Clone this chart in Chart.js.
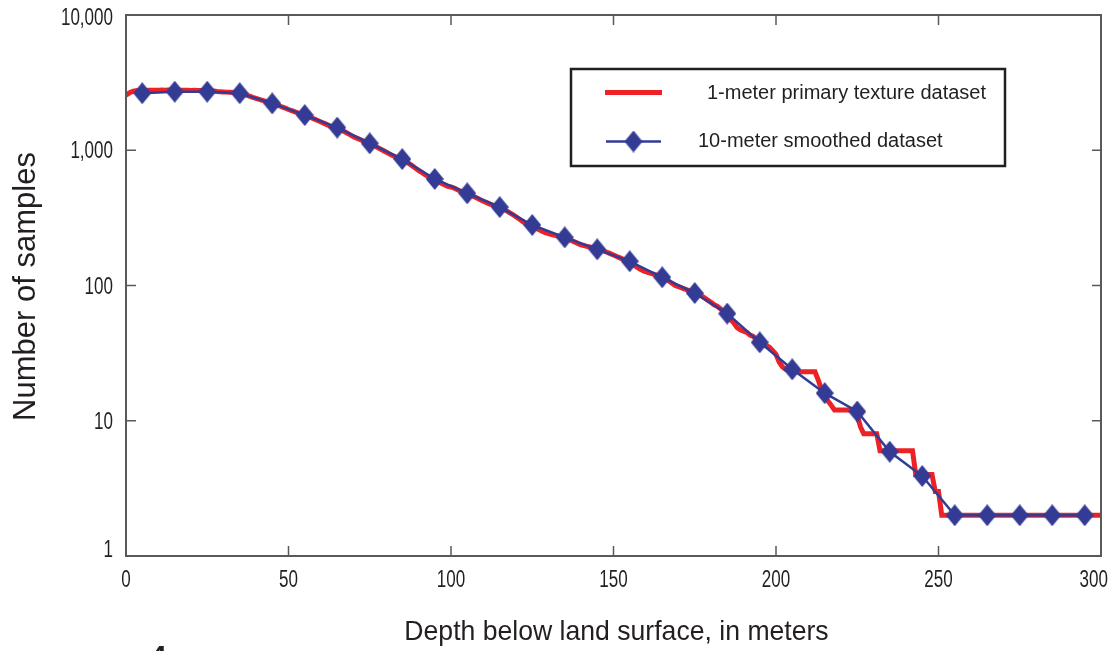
<!DOCTYPE html>
<html>
<head>
<meta charset="utf-8">
<script src="https://cdn.jsdelivr.net/npm/chart.js@4.4.0/dist/chart.umd.min.js"></script>
<style>
html,body{margin:0;padding:0;background:#ffffff;overflow:hidden}
#wrap{width:1115px;height:651px;position:relative}
</style>
</head>
<body>
<div id="wrap"><canvas id="c" width="1115" height="651"></canvas></div>
<script>
// ---------- data ----------
const seriesNames = ['1-meter primary texture dataset', '10-meter smoothed dataset'];
const xTitle = 'Depth below land surface, in meters';
const yTitle = 'Number of samples';
const xTickValues = [0, 50, 100, 150, 200, 250, 300];
const xTickLabels = ['0', '50', '100', '150', '200', '250', '300'];
const yTickValues = [1, 10, 100, 1000, 10000];
const yTickLabels = ['1', '10', '100', '1,000', '10,000'];

// 1-meter dataset: depth 0..300 m, one value per meter
const oneMeterDepths = Array.from({length: 301}, (_, i) => i);
const oneMeterCounts = [
  2560, 2650, 2720, 2750, 2760, 2770, 2770, 2775, 2780, 2780,
  2780, 2785, 2780, 2790, 2785, 2780, 2790, 2780, 2775, 2780,
  2770, 2775, 2770, 2760, 2765, 2750, 2745, 2740, 2720, 2710,
  2700, 2690, 2680, 2670, 2655, 2640, 2610, 2560, 2510, 2460,
  2420, 2380, 2340, 2300, 2260, 2220, 2180, 2140, 2090, 2050,
  2000, 1960, 1920, 1880, 1850, 1820, 1780, 1740, 1700, 1660,
  1620, 1580, 1540, 1500, 1480, 1460, 1420, 1380, 1340, 1300,
  1260, 1230, 1200, 1170, 1140, 1120, 1090, 1060, 1030, 1000,
  970, 940, 915, 890, 870, 855, 830, 800, 770, 740,
  710, 685, 660, 640, 625, 610, 590, 570, 555, 540,
  535, 525, 510, 498, 488, 478, 468, 455, 443, 430,
  420, 410, 400, 392, 385, 378, 368, 358, 346, 335,
  322, 310, 298, 288, 280, 272, 266, 259, 252, 246,
  242, 238, 235, 232, 229, 226, 221, 215, 210, 205,
  200, 197, 194, 192, 189, 186, 183, 180, 176, 172,
  168, 164, 160, 156, 152, 148, 143, 138, 133, 129,
  126, 124, 122, 120, 118, 115, 112, 108, 104, 100,
  98, 96, 94, 92, 90, 88, 86, 84, 81, 78,
  75, 72, 70, 67, 64, 60, 56, 53, 49, 47,
  46, 45, 43, 42, 40, 39, 37, 36, 35, 33,
  31, 27, 25, 24, 24, 23, 23, 23, 23, 23,
  23, 23, 23, 20, 17, 15, 14, 13, 12, 12,
  12, 12, 12, 12, 12, 11, 9, 8, 8, 8,
  8, 8, 6, 6, 6, 6, 6, 6, 6, 6,
  6, 6, 6, 4, 4, 4, 4, 4, 4, 3,
  3, 2, 2, 2, 2, 2, 2, 2, 2, 2,
  2, 2, 2, 2, 2, 2, 2, 2, 2, 2,
  2, 2, 2, 2, 2, 2, 2, 2, 2, 2,
  2, 2, 2, 2, 2, 2, 2, 2, 2, 2,
  2, 2, 2, 2, 2, 2, 2, 2, 2, 2,
  2
];

// 10-meter smoothed dataset
const tenMeterDepths = [5, 15, 25, 35, 45, 55, 65, 75, 85, 95, 105, 115, 125, 135, 145,
  155, 165, 175, 185, 195, 205, 215, 225, 235, 245, 255, 265, 275, 285, 295];
const tenMeterCounts = [2640, 2710, 2710, 2640, 2220, 1820, 1470, 1125, 860, 613, 480, 380, 280, 227, 185,
  151, 115, 88, 62, 38, 24, 16, 11.7, 5.9, 3.9, 2, 2, 2, 2, 2];

// ---------- styles ----------
const RED = '#ec2227';
const BLUE = '#333b94';
const AXIS = '#595959';
const TEXT = '#231f20';
const SANS = '"Liberation Sans", Arial, sans-serif';

function makeDiamond(w, h, color) {
  const c = document.createElement('canvas');
  c.width = w; c.height = h;
  const g = c.getContext('2d');
  g.fillStyle = color;
  g.beginPath();
  g.moveTo(w / 2, 0); g.lineTo(w, h / 2); g.lineTo(w / 2, h); g.lineTo(0, h / 2);
  g.closePath(); g.fill();
  return c;
}
const diamond = makeDiamond(18, 22, BLUE);

function condensedText(ctx, text, x, y, align, sx) {
  ctx.save();
  ctx.translate(x, y);
  ctx.scale(sx, 1);
  ctx.textAlign = align;
  ctx.fillText(text, 0, 0);
  ctx.restore();
}

const decorPlugin = {
  id: 'decor',
  afterDraw(chart) {
    const {ctx, chartArea: a, scales: {x, y}} = chart;
    const W = chart.width;
    ctx.save();
    // frame
    ctx.strokeStyle = AXIS;
    ctx.lineWidth = 2;
    ctx.strokeRect(a.left, a.top, a.right - a.left, a.bottom - a.top);
    // inward ticks
    ctx.beginPath();
    x.ticks.forEach(t => {
      const px = x.getPixelForValue(t.value);
      if (px <= a.left + 1 || px >= a.right - 1) return;
      ctx.moveTo(px, a.bottom); ctx.lineTo(px, a.bottom - 10);
      ctx.moveTo(px, a.top); ctx.lineTo(px, a.top + 10);
    });
    y.ticks.forEach(t => {
      const py = y.getPixelForValue(t.value);
      if (py <= a.top + 1 || py >= a.bottom - 1) return;
      ctx.moveTo(a.left, py); ctx.lineTo(a.left + 10, py);
      ctx.moveTo(a.right, py); ctx.lineTo(a.right - 9, py);
    });
    ctx.lineWidth = 1.5;
    ctx.stroke();

    // tick labels (condensed face)
    const SX = 0.74;
    ctx.fillStyle = TEXT;
    ctx.font = '23px ' + SANS;
    ctx.textBaseline = 'alphabetic';
    y.ticks.forEach((t, i) => {
      const py = y.getPixelForValue(t.value);
      const base = Math.min(Math.max(py + 8, a.top + 10), a.bottom + 1);
      condensedText(ctx, yTickLabels[i], a.left - 13, base, 'right', SX);
    });
    x.ticks.forEach((t, i) => {
      const px = x.getPixelForValue(t.value);
      const lbl = xTickLabels[i];
      const w = ctx.measureText(lbl).width * SX;
      const cx = Math.min(px, W - 7 - w / 2);
      condensedText(ctx, lbl, cx, 587, 'center', SX);
    });

    // legend
    const ds = chart.data.datasets;
    ctx.strokeStyle = TEXT;
    ctx.lineWidth = 2.5;
    ctx.strokeRect(571, 69, 434, 97);
    ctx.fillStyle = TEXT;
    ctx.font = '20px ' + SANS;
    ctx.textBaseline = 'middle';
    ctx.textAlign = 'left';
    ctx.strokeStyle = ds[1].borderColor;
    ctx.lineWidth = 5;
    ctx.beginPath(); ctx.moveTo(605, 92.5); ctx.lineTo(662, 92.5); ctx.stroke();
    ctx.fillText(ds[1].label, 707, 93);
    ctx.strokeStyle = ds[0].borderColor;
    ctx.lineWidth = 2.5;
    ctx.beginPath(); ctx.moveTo(606, 141.5); ctx.lineTo(661, 141.5); ctx.stroke();
    ctx.drawImage(diamond, 633.5 - 9, 141.5 - 11);
    ctx.fillText(ds[0].label, 698, 141);

    // axis titles
    ctx.fillStyle = TEXT;
    ctx.textBaseline = 'alphabetic';
    ctx.font = '28px ' + SANS;
    condensedText(ctx, xTitle, (a.left + a.right) / 2 + 3, 640, 'center', 0.95);
    ctx.save();
    ctx.translate(35, (a.top + a.bottom) / 2 + 1);
    ctx.rotate(-Math.PI / 2);
    ctx.textAlign = 'center';
    ctx.font = '31px ' + SANS;
    ctx.fillText(yTitle, 0, 0);
    ctx.restore();

    // cropped figure number at the bottom edge
    ctx.font = 'bold 30px ' + SANS;
    ctx.textAlign = 'left';
    ctx.fillText('4', 150, 666);
    ctx.restore();
  }
};

const chart = new Chart(document.getElementById('c'), {
  type: 'line',
  data: {
    datasets: [
      {
        label: seriesNames[1],
        data: tenMeterDepths.map((d, i) => ({x: d, y: tenMeterCounts[i]})),
        borderColor: BLUE,
        backgroundColor: BLUE,
        borderWidth: 2.5,
        pointStyle: diamond,
        pointRadius: 10,
        pointHoverRadius: 10,
        tension: 0,
        order: 0
      },
      {
        label: seriesNames[0],
        data: oneMeterDepths.map((d, i) => ({x: d, y: oneMeterCounts[i]})),
        borderColor: RED,
        backgroundColor: RED,
        borderWidth: 5,
        pointRadius: 0,
        tension: 0,
        order: 1
      }
    ]
  },
  options: {
    responsive: false,
    animation: false,
    devicePixelRatio: 1,
    layout: {padding: {top: 15, right: 14, left: 0, bottom: 0}},
    plugins: {legend: {display: false}, tooltip: {enabled: false}},
    scales: {
      x: {
        type: 'linear',
        min: 0, max: 300,
        grid: {display: false, drawTicks: false},
        border: {display: false},
        afterBuildTicks: s => { s.ticks = xTickValues.map(v => ({value: v})); },
        afterFit: s => { s.height = 95; s.paddingLeft = 0; s.paddingRight = 0; },
        ticks: {display: false}
      },
      y: {
        type: 'logarithmic',
        min: 1, max: 10000,
        grid: {display: false, drawTicks: false},
        border: {display: false},
        afterBuildTicks: s => { s.ticks = yTickValues.map(v => ({value: v})); },
        afterFit: s => { s.width = 126; s.paddingTop = 0; s.paddingBottom = 0; },
        ticks: {display: false}
      }
    }
  },
  plugins: [decorPlugin]
});
</script>
</body>
</html>
